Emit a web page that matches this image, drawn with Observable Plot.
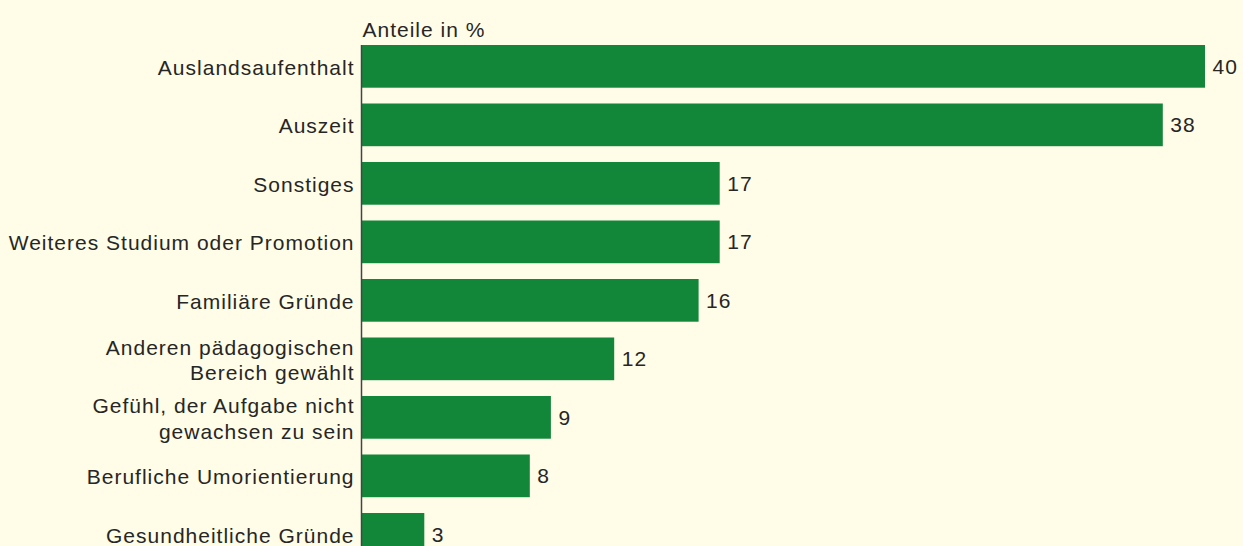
<!DOCTYPE html>
<html><head><meta charset="utf-8">
<script src="https://cdn.jsdelivr.net/npm/d3@7"></script>
<script src="https://cdn.jsdelivr.net/npm/@observablehq/plot@0.6"></script>
<style>
html,body{margin:0;padding:0;background:#FFFDE7;overflow:hidden;}
#chart svg{display:block;}
#chart svg text{letter-spacing:1px;}
</style></head>
<body><div id="chart"></div>
<script>
const categories = [
  "Auslandsaufenthalt",
  "Auszeit",
  "Sonstiges",
  "Weiteres Studium oder Promotion",
  "Familiäre Gründe",
  "Anderen pädagogischen\nBereich gewählt",
  "Gefühl, der Aufgabe nicht\ngewachsen zu sein",
  "Berufliche Umorientierung",
  "Gesundheitliche Gründe"
];
const values = [40, 38, 17, 17, 16, 12, 9, 8, 3];
const axisTitle = "Anteile in %";

const data = categories.map((c, i) => ({cat: c, value: values[i]}));
const font = "'Liberation Sans', Arial, sans-serif";
const ink = "#262626";

const chart = Plot.plot({
  width: 1243,
  height: 546,
  marginLeft: 361,
  marginRight: 38,
  marginTop: 45,
  marginBottom: 0,
  style: {background: "#FFFDE7", fontFamily: font, fontSize: "21px", color: ink, overflow: "hidden"},
  x: {domain: [0, 40], axis: null},
  y: {domain: categories, range: [37.1, 563.6], paddingInner: 0.27, paddingOuter: 0.135, round: false, axis: null},
  marks: [
    Plot.barX(data, {x: "value", y: "cat", fill: "#12873A"}),
    Plot.ruleX([0], {stroke: "#444", strokeWidth: 1.5}),
    Plot.axisY({tickSize: 0, tickPadding: 7, label: null, fontSize: 21, lineHeight: 1.2, fill: ink}),
    Plot.text(data, {x: "value", y: "cat", text: d => String(d.value), textAnchor: "start", dx: 7, fontSize: 21, fill: ink}),
    Plot.text([axisTitle], {frameAnchor: "top-left", lineAnchor: "bottom", dy: -9, dx: 1, fontSize: 21, fill: ink})
  ]
});
document.getElementById("chart").append(chart);
</script></body></html>
